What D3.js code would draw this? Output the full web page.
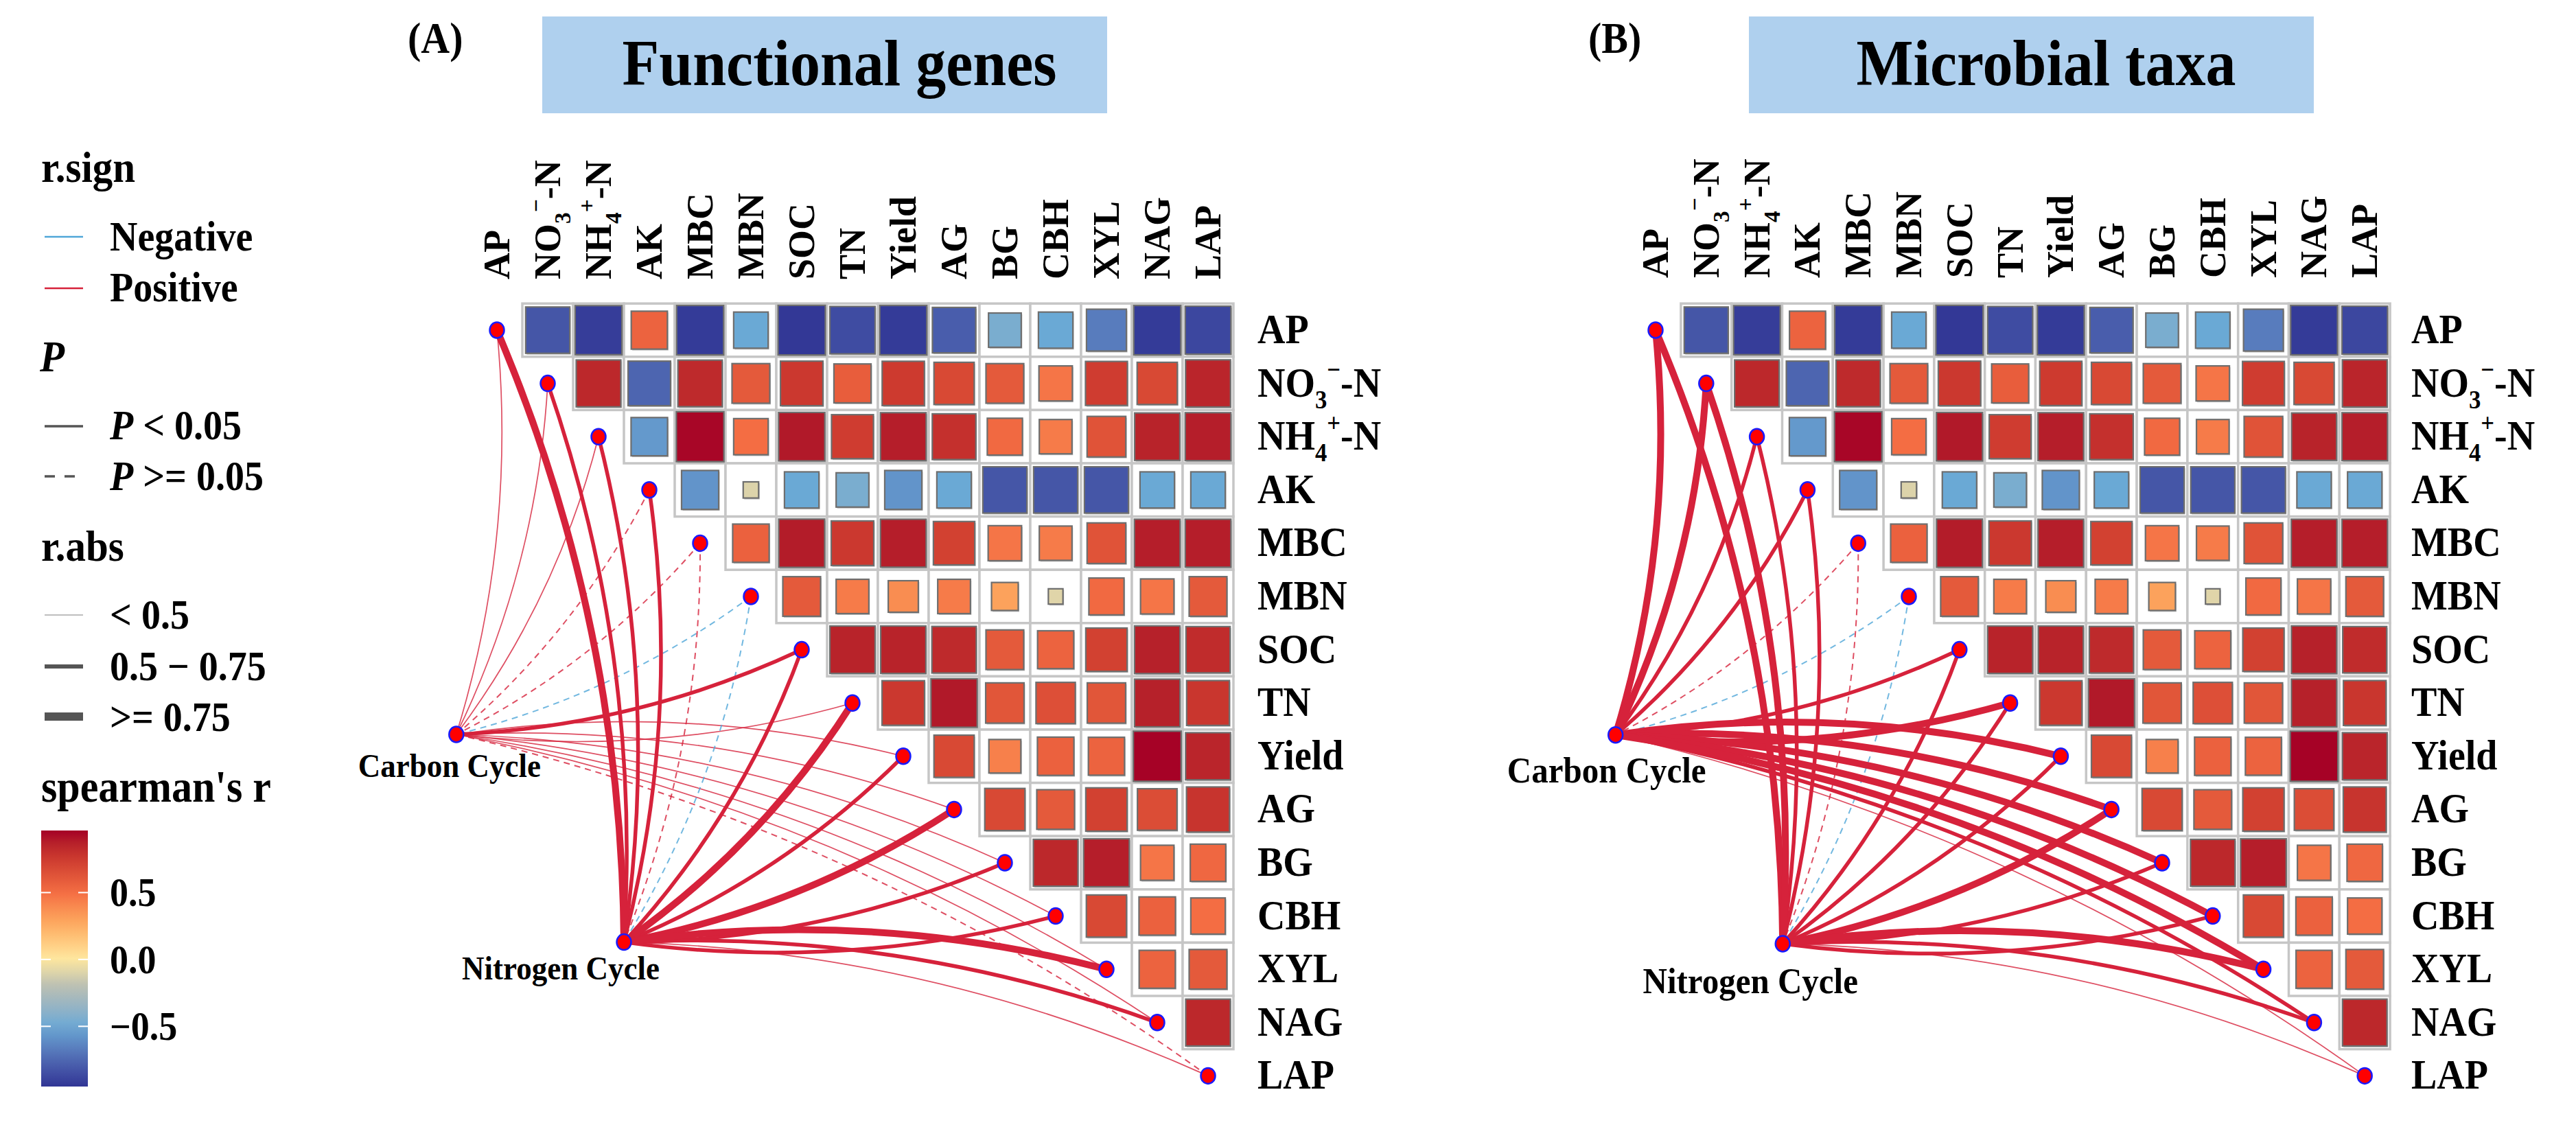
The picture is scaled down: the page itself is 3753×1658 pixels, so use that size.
<!DOCTYPE html>
<html lang="en">
<head>
<meta charset="utf-8">
<title>Correlation heatmaps with Mantel links</title>
<script src="https://cdn.jsdelivr.net/npm/d3@7"></script>
<style>
  body { margin: 0; background: #fff; }
  text { font-family: "Liberation Serif", "Times New Roman", serif; font-weight: bold; fill: #000; }
</style>
</head>
<body>
<script>
// ---- data ----
var vars = ["AP", "NO3", "NH4", "AK", "MBC", "MBN", "SOC", "TN", "Yield", "AG", "BG", "CBH", "XYL", "NAG", "LAP"];

// spearman's r, upper triangle, one row per variable (columns after the diagonal)
var rowAP    = [-0.82, -0.92, 0.55, -0.93, -0.50, -0.94, -0.86, -0.93, -0.79, -0.45, -0.50, -0.67, -0.93, -0.88];
var rowNO3   = [0.84, -0.76, 0.83, 0.60, 0.76, 0.58, 0.75, 0.68, 0.60, 0.47, 0.74, 0.68, 0.85];
var rowNH4   = [-0.56, 0.95, 0.50, 0.90, 0.74, 0.88, 0.80, 0.52, 0.45, 0.63, 0.86, 0.88];
var rowAK    = [-0.58, -0.10, -0.50, -0.45, -0.58, -0.50, -0.82, -0.82, -0.82, -0.50, -0.50];
var rowMBC   = [0.56, 0.89, 0.76, 0.88, 0.72, 0.47, 0.45, 0.63, 0.88, 0.88];
var rowMBN   = [0.60, 0.45, 0.38, 0.45, 0.30, -0.09, 0.52, 0.47, 0.60];
var rowSOC   = [0.86, 0.86, 0.83, 0.60, 0.55, 0.72, 0.87, 0.82];
var rowTN    = [0.76, 0.90, 0.62, 0.65, 0.62, 0.87, 0.77];
var rowYield = [0.68, 0.43, 0.56, 0.55, 0.96, 0.85];
var rowAG    = [0.68, 0.60, 0.72, 0.66, 0.78];
var rowBG    = [0.84, 0.88, 0.47, 0.53];
var rowCBH   = [0.68, 0.56, 0.50];
var rowXYL   = [0.55, 0.60];
var rowNAG   = [0.84];
var upperRows = [rowAP, rowNO3, rowNH4, rowAK, rowMBC, rowMBN, rowSOC, rowTN, rowYield, rowAG, rowBG, rowCBH, rowXYL, rowNAG];

var cycles = ["Carbon Cycle", "Nitrogen Cycle"];

// Mantel r and p, one value per variable in vars order
var aCarbonR   = [0.30, 0.28, 0.30, 0.15, 0.12, -0.12, 0.62, 0.35, 0.33, 0.38, 0.32, 0.30, 0.34, 0.36, 0.22];
var aCarbonP   = [0.01, 0.02, 0.02, 0.20, 0.30, 0.40, 0.001, 0.01, 0.02, 0.01, 0.02, 0.03, 0.02, 0.03, 0.12];
var aNitrogenR = [0.85, 0.66, 0.62, 0.60, 0.15, -0.10, 0.70, 0.78, 0.68, 0.82, 0.65, 0.64, 0.80, 0.70, 0.38];
var aNitrogenP = [0.001, 0.001, 0.002, 0.003, 0.20, 0.35, 0.001, 0.001, 0.001, 0.001, 0.002, 0.002, 0.001, 0.001, 0.02];
var bCarbonR   = [0.80, 0.78, 0.62, 0.58, 0.15, -0.12, 0.62, 0.80, 0.78, 0.80, 0.82, 0.80, 0.78, 0.72, 0.35];
var bCarbonP   = [0.001, 0.001, 0.002, 0.003, 0.20, 0.35, 0.002, 0.001, 0.001, 0.001, 0.001, 0.001, 0.001, 0.001, 0.03];
var bNitrogenR = [0.80, 0.78, 0.62, 0.60, 0.18, -0.12, 0.60, 0.64, 0.62, 0.78, 0.66, 0.70, 0.76, 0.66, 0.40];
var bNitrogenP = [0.001, 0.001, 0.002, 0.003, 0.20, 0.35, 0.002, 0.001, 0.001, 0.001, 0.001, 0.001, 0.001, 0.001, 0.03];

var colorTicks = [0.5, 0.0, -0.5];
var rRange = [-0.95, 0.964];

// ---- scales ----
var color = d3.scaleLinear()
  .domain([-0.95, -0.5, -0.2, 0, 0.25, 0.5, 0.75, 0.964])
  .range(["#313695", "#6aa9d5", "#b9bfb3", "#fee8a0", "#fdae62", "#f46d43", "#cd3a2f", "#a50026"])
  .interpolate(d3.interpolateLab)
  .clamp(true);

var POS = "#d6223b", NEG = "#4fa6d8";
var TALL = 1.08; // reference glyphs look a little stretched vertically
function linkWidth(r) { var a = Math.abs(r); return a < 0.5 ? 1.7 : (a < 0.75 ? 5.5 : 10); }

var svg = d3.select("body").append("svg")
  .attr("width", 3753).attr("height", 1658)
  .style("display", "block");
svg.append("rect").attr("width", 3753).attr("height", 1658).attr("fill", "#fff");

function tallText(parent, x, y, fs) {
  return parent.append("text")
    .attr("transform", "translate(" + x + "," + y + ") scale(1," + TALL + ")")
    .attr("font-size", fs);
}

function richLabel(sel, name, fs) {
  var parts = {
    NO3: [["NO", 0, 1], ["3", 0.28, 0.62], ["\u2212", -0.72, 0.62], ["-N", 0.44, 1]],
    NH4: [["NH", 0, 1], ["4", 0.28, 0.62], ["+", -0.72, 0.62], ["-N", 0.44, 1]]
  }[name];
  if (!parts) { sel.text(name); return; }
  parts.forEach(function(p) {
    sel.append("tspan").attr("dy", p[1] * fs).attr("font-size", p[2] * fs).text(p[0]);
  });
}

function curvePath(x1, y1, x2, y2) {
  var dx = x2 - x1, dy = y2 - y1, L = Math.hypot(dx, dy);
  var nx = dy / L, ny = -dx / L;
  if (y1 > y2) { nx = -nx; ny = -ny; }
  var k = 0.1 * L;
  var p = d3.path();
  p.moveTo(x1, y1);
  p.quadraticCurveTo((x1 + x2) / 2 + nx * k, (y1 + y2) / 2 + ny * k, x2, y2);
  return p.toString();
}

function drawPanel(cfg) {
  var g = svg.append("g");
  var x = d3.scaleLinear().domain([0, vars.length - 1]).range([cfg.x0, cfg.x0 + cfg.dx * (vars.length - 1)]);
  var y = d3.scaleLinear().domain([0, vars.length - 1]).range([cfg.y0, cfg.y0 + cfg.dy * (vars.length - 1)]);
  var cw = cfg.dx, ch = cfg.dy;

  // title
  tallText(g, cfg.letterX, 77, 58).text(cfg.letter);
  g.append("rect").attr("x", cfg.boxX).attr("y", 24).attr("width", 823).attr("height", 141).attr("fill", "#afd0ee");
  tallText(g, cfg.boxX + 411 + 22, 124, 88).attr("text-anchor", "middle").text(cfg.title);

  // cells
  var cells = [];
  upperRows.forEach(function(row, i) {
    row.forEach(function(r, k) { cells.push({ i: i, j: i + 1 + k, r: r }); });
  });
  g.append("g").selectAll("rect").data(cells).enter().append("rect")
    .attr("x", function(d) { return x(d.j) - cw / 2; })
    .attr("y", function(d) { return y(d.i) - ch / 2; })
    .attr("width", cw).attr("height", ch)
    .attr("fill", "#fff").attr("stroke", "#c6c6c6").attr("stroke-width", 3.5);
  function side(d, s) { return s * 0.96 * Math.sqrt(Math.abs(d.r)); }
  // soft shadow under each square
  g.append("g").selectAll("rect").data(cells).enter().append("rect")
    .attr("x", function(d) { return x(d.j) - side(d, cw) / 2 + 1.5; })
    .attr("y", function(d) { return y(d.i) - side(d, ch) / 2 + 2; })
    .attr("width", function(d) { return side(d, cw); })
    .attr("height", function(d) { return side(d, ch); })
    .attr("fill", "#9a9a9a").attr("opacity", 0.6);
  g.append("g").selectAll("rect").data(cells).enter().append("rect")
    .attr("x", function(d) { return x(d.j) - side(d, cw) / 2; })
    .attr("y", function(d) { return y(d.i) - side(d, ch) / 2; })
    .attr("width", function(d) { return side(d, cw); })
    .attr("height", function(d) { return side(d, ch); })
    .attr("fill", function(d) { return color(d.r); })
    .attr("stroke", "#6e6e6e").attr("stroke-width", 2.2);

  // row labels
  var rl = g.append("g");
  vars.forEach(function(v, i) {
    richLabel(tallText(rl, cfg.rowLabelX, y(i) + 19, 56), v, 56);
  });

  // column labels
  g.append("g").selectAll("text").data(vars).enter().append("text")
    .attr("transform", function(d, i) { return "translate(" + (x(i) + 18) + "," + cfg.colBottom + ") rotate(-90)"; })
    .attr("font-size", 54)
    .each(function(d) { richLabel(d3.select(this), d, 54); });

  // links
  var links = [];
  cfg.src.forEach(function(s, si) {
    vars.forEach(function(v, vi) {
      links.push({ sx: x(s.xi), sy: y(s.yi), ex: x(vi), ey: y(vi), r: s.r[vi], p: s.p[vi] });
    });
  });
  links.sort(function(a, b) { return linkWidth(a.r) - linkWidth(b.r); });
  g.append("g").selectAll("path").data(links).enter().append("path")
    .attr("d", function(d) { return curvePath(d.ex, d.ey, d.sx, d.sy); })
    .attr("fill", "none")
    .attr("stroke", function(d) { return d.r >= 0 ? POS : NEG; })
    .attr("stroke-width", function(d) { return d.p < 0.05 ? linkWidth(d.r) : 2; })
    .attr("stroke-dasharray", function(d) { return d.p < 0.05 ? null : "9,7"; })
    .attr("stroke-opacity", function(d) { return linkWidth(d.r) < 2 ? 0.8 : 1; });

  // nodes
  var nodes = vars.map(function(v, i) { return { x: x(i), y: y(i) }; })
    .concat(cfg.src.map(function(s) { return { x: x(s.xi), y: y(s.yi) }; }));
  g.append("g").selectAll("ellipse").data(nodes).enter().append("ellipse")
    .attr("cx", function(d) { return d.x; }).attr("cy", function(d) { return d.y; })
    .attr("rx", 10.5).attr("ry", 11.5)
    .attr("fill", "#ff0000").attr("stroke", "#1a1aff").attr("stroke-width", 2.5);

  cfg.src.forEach(function(s, si) {
    tallText(g, x(s.xi) + s.lx, y(s.yi) + s.ly, cfg.nodeFont)
      .attr("text-anchor", "middle").text(cycles[si]);
  });
}

drawPanel({
  letter: "(A)", letterX: 594, boxX: 790, title: "Functional genes",
  x0: 724, dx: 74, y0: 481, dy: 77.6, rowLabelX: 1832, colBottom: 407, nodeFont: 45,
  src: [
    { xi: -0.8, yi: 7.59, r: aCarbonR, p: aCarbonP, lx: -10, ly: 62 },
    { xi: 2.5, yi: 11.49, r: aNitrogenR, p: aNitrogenP, lx: -92, ly: 54 }
  ]
});
drawPanel({
  letter: "(B)", letterX: 2314, boxX: 2548, title: "Microbial taxa",
  x0: 2412, dx: 73.8, y0: 481, dy: 77.6, rowLabelX: 3513, colBottom: 405, nodeFont: 49,
  src: [
    { xi: -0.79, yi: 7.6, r: bCarbonR, p: bCarbonP, lx: -13, ly: 69 },
    { xi: 2.51, yi: 11.52, r: bNitrogenR, p: bNitrogenP, lx: -47, ly: 72 }
  ]
});

// ---- legend ----
var lg = svg.append("g");
var keyX1 = 65, keyX2 = 121, txtX = 160;
tallText(lg, 60, 265, 59).text("r.sign");
[["Negative", NEG, 345, 365], ["Positive", POS, 420, 439]].forEach(function(d) {
  lg.append("line").attr("x1", keyX1).attr("x2", keyX2).attr("y1", d[2]).attr("y2", d[2])
    .attr("stroke", d[1]).attr("stroke-width", 2.5);
  tallText(lg, txtX, d[3], 56).text(d[0]);
});
tallText(lg, 58, 541, 59).attr("font-style", "italic").text("P");
[["< 0.05", null, 621, 640], [">= 0.05", "15,14", 694, 714]].forEach(function(d) {
  lg.append("line").attr("x1", keyX1).attr("x2", keyX2).attr("y1", d[2]).attr("y2", d[2])
    .attr("stroke", "#555").attr("stroke-width", 3.5).attr("stroke-dasharray", d[1]);
  var t = tallText(lg, txtX, d[3], 56);
  t.append("tspan").attr("font-style", "italic").text("P");
  t.append("tspan").text(" " + d[0]);
});
tallText(lg, 60, 817, 59).text("r.abs");
[["< 0.5", 1.5, "#a8a8a8", 896, 916], ["0.5 \u2212 0.75", 6, "#555", 971, 991], [">= 0.75", 12, "#555", 1044, 1065]].forEach(function(d) {
  lg.append("line").attr("x1", keyX1).attr("x2", keyX2).attr("y1", d[3]).attr("y2", d[3])
    .attr("stroke", d[2]).attr("stroke-width", d[1]);
  tallText(lg, txtX, d[4], 56).text(d[0]);
});
tallText(lg, 60, 1168, 60).text("spearman's r");

// colour bar
var barY = d3.scaleLinear().domain(rRange).range([1583, 1210]);
var grad = svg.append("defs").append("linearGradient").attr("id", "cbar")
  .attr("x1", 0).attr("y1", 1).attr("x2", 0).attr("y2", 0);
d3.range(0, 1.0001, 0.05).forEach(function(t) {
  var v = rRange[0] + t * (rRange[1] - rRange[0]);
  grad.append("stop").attr("offset", t).attr("stop-color", color(v));
});
lg.append("rect").attr("x", 60).attr("y", 1210).attr("width", 68).attr("height", 373).attr("fill", "url(#cbar)");
colorTicks.forEach(function(v) {
  lg.append("line").attr("x1", 60).attr("x2", 74).attr("y1", barY(v)).attr("y2", barY(v)).attr("stroke", "#fff").attr("stroke-width", 2);
  lg.append("line").attr("x1", 114).attr("x2", 128).attr("y1", barY(v)).attr("y2", barY(v)).attr("stroke", "#fff").attr("stroke-width", 2);
  tallText(lg, txtX, barY(v) + 20, 54)
    .text(v === 0 ? "0.0" : (v < 0 ? "\u2212" + Math.abs(v) : String(v)));
});
</script>
</body>
</html>
